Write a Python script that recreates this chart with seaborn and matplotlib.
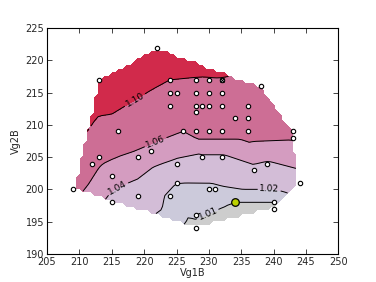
import numpy as np
import matplotlib
matplotlib.use("Agg")
import matplotlib.pyplot as plt
import matplotlib.tri as mtri
from matplotlib.colors import ListedColormap, BoundaryNorm
import pandas as pd
import seaborn as sns

# ---- data ----
vg1b = [222, 213, 224, 228, 230, 232, 238,
        224, 225, 228, 230, 232,
        224, 228, 229, 230, 232, 236, 228, 234, 236,
        216, 226, 228, 230, 232, 236, 243, 243,
        209, 212, 213, 215, 215, 219, 221, 219, 224, 225, 225,
        228, 228, 229, 232, 239, 237, 244, 230, 231, 234, 240, 240]
vg2b = [222, 217, 217, 217, 217, 217, 216,
        215, 215, 215, 215, 215,
        213, 213, 213, 213, 213, 213, 212, 211, 211,
        209, 209, 209, 209, 209, 209, 209, 208,
        200, 204, 205, 202, 198, 205, 206, 199, 199, 204, 201,
        196, 194, 205, 205, 204, 203, 201, 200, 200, 198, 198, 197]
ratio = [1.140, 1.130, 1.100, 1.097, 1.096, 1.098, 1.085,
         1.090, 1.090, 1.088, 1.088, 1.088,
         1.087, 1.085, 1.085, 1.085, 1.083, 1.080, 1.082, 1.078, 1.077,
         1.085, 1.060, 1.070, 1.070, 1.070, 1.070, 1.068, 1.062,
         1.068, 1.066, 1.066, 1.048, 1.034, 1.053, 1.054, 1.030, 1.018, 1.036, 1.020,
         1.012, 1.006, 1.037, 1.037, 1.038, 1.035, 1.030, 1.016, 1.017, 1.010, 1.010, 1.006]
best_vg1b = [234]
best_vg2b = [198]
marked_vg1b = [232]
marked_vg2b = [217]

fill_levels = [0.98, 1.01, 1.02, 1.04, 1.06, 1.10, 1.20]
line_levels = [1.01, 1.02, 1.04, 1.06, 1.10]
band_colors = ['#cdcdcd', '#cccadb', '#d3bdd7', '#d49cc0', '#cd6e95', '#d12a4b']
label_spots = [(218.5, 214.0), (221.5, 208.0), (215.6, 200.8), (239.3, 200.3), (229.8, 196.2)]
x_ticks = list(range(205, 251, 5))
y_ticks = list(range(190, 226, 5))

df = pd.DataFrame({"Vg1B": vg1b, "Vg2B": vg2b, "ratio": ratio})

sns.set_theme(style="ticks")
plt.rcParams['font.family'] = ['DejaVu Sans']

fig = plt.figure(figsize=(3.76, 2.82), dpi=100)
ax = fig.add_axes([0.125, 0.1, 0.775, 0.8])

# interpolate on a grid inside the convex hull
tri = mtri.Triangulation(df["Vg1B"], df["Vg2B"])
interp = mtri.LinearTriInterpolator(tri, df["ratio"])
gx = np.linspace(min(vg1b), max(vg1b), 64)
gy = np.linspace(min(vg2b), max(vg2b), 51)
GX, GY = np.meshgrid(gx, gy)
GZ = interp(GX, GY)

cmap = ListedColormap(band_colors)
norm = BoundaryNorm(fill_levels, cmap.N)
ax.contourf(GX, GY, GZ, levels=fill_levels, cmap=cmap, norm=norm)
cs = ax.contour(GX, GY, GZ, levels=line_levels, colors='black', linewidths=0.7)
ax.clabel(cs, fmt='%.2f', fontsize=6.5, inline=True, manual=label_spots)

sns.scatterplot(data=df, x="Vg1B", y="Vg2B", ax=ax, color='white',
                edgecolor='black', s=10, linewidth=0.8, zorder=5, legend=False)
ax.scatter(marked_vg1b, marked_vg2b, marker='x', s=9, c='black', linewidths=0.7, zorder=6)
ax.scatter(best_vg1b, best_vg2b, s=30, c='#bcd100', edgecolors='black', linewidths=0.9, zorder=7)

ax.set_xlim(205, 250)
ax.set_ylim(190, 225)
ax.set_xticks(x_ticks)
ax.set_yticks(y_ticks)
ax.set_xlabel("Vg1B", fontsize=7, labelpad=1)
ax.set_ylabel("Vg2B", fontsize=7, labelpad=3)
ax.tick_params(direction='in', top=True, right=True, labelsize=7, length=3.5, width=0.6, pad=2)
for sp in ax.spines.values():
    sp.set_linewidth(0.8)
    sp.set_color('black')
ax.set_facecolor('white')

fig.savefig("out.png", dpi=100)
